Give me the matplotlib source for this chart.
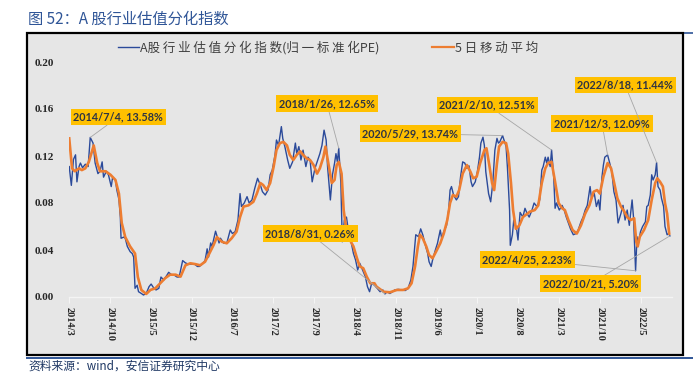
import matplotlib
matplotlib.use("Agg")
import matplotlib.pyplot as plt
import numpy as np
from matplotlib.patches import Rectangle
from matplotlib.lines import Line2D
from matplotlib.font_manager import FontProperties

plt.rcParams['font.family'] = ['Noto Sans CJK SC', 'DejaVu Sans']

# 数据：时间用小数年表示，数值读自原图
t_blue = [2014.17, 2014.20, 2014.23, 2014.26, 2014.28, 2014.31, 2014.33, 2014.36, 2014.40, 2014.44,
          2014.47, 2014.51, 2014.54, 2014.58, 2014.61, 2014.64, 2014.66, 2014.70, 2014.73, 2014.77,
          2014.79, 2014.83, 2014.85, 2014.88, 2014.90, 2014.91, 2014.95, 2014.97, 2015.00, 2015.04,
          2015.07, 2015.09, 2015.11, 2015.14, 2015.16, 2015.20, 2015.23, 2015.27, 2015.31, 2015.34,
          2015.38, 2015.41, 2015.45, 2015.48, 2015.52, 2015.57, 2015.59, 2015.63, 2015.66, 2015.71,
          2015.74, 2015.79, 2015.83, 2015.87, 2015.91, 2015.96, 2016.00, 2016.03, 2016.07, 2016.11,
          2016.14, 2016.16, 2016.19, 2016.21, 2016.26, 2016.31, 2016.33, 2016.38, 2016.42, 2016.47,
          2016.50, 2016.54, 2016.58, 2016.61, 2016.63, 2016.67, 2016.71, 2016.74, 2016.78, 2016.82,
          2016.86, 2016.90, 2016.93, 2016.97, 2017.01, 2017.04, 2017.07, 2017.11, 2017.13, 2017.16,
          2017.20, 2017.22, 2017.25, 2017.29, 2017.32, 2017.36, 2017.40, 2017.42, 2017.45, 2017.48,
          2017.51, 2017.55, 2017.58, 2017.61, 2017.64, 2017.68, 2017.72, 2017.75, 2017.78, 2017.81,
          2017.84, 2017.86, 2017.90, 2017.93, 2017.96, 2017.98, 2018.00, 2018.02, 2018.05, 2018.07,
          2018.10, 2018.13, 2018.17, 2018.20, 2018.23, 2018.26, 2018.29, 2018.32, 2018.36, 2018.40,
          2018.43, 2018.46, 2018.49, 2018.53, 2018.57, 2018.61, 2018.65, 2018.68, 2018.71, 2018.75,
          2018.79, 2018.82, 2018.87, 2018.92, 2018.97, 2019.01, 2019.05, 2019.08, 2019.10, 2019.12,
          2019.16, 2019.19, 2019.22, 2019.25, 2019.29, 2019.31, 2019.34, 2019.36, 2019.40, 2019.43,
          2019.47, 2019.49, 2019.52, 2019.56, 2019.59, 2019.61, 2019.63, 2019.66, 2019.70, 2019.73,
          2019.76, 2019.79, 2019.82, 2019.85, 2019.88, 2019.91, 2019.93, 2019.97, 2020.00, 2020.03,
          2020.05, 2020.08, 2020.10, 2020.12, 2020.16, 2020.19, 2020.22, 2020.25, 2020.28, 2020.30,
          2020.32, 2020.36, 2020.38, 2020.41, 2020.43, 2020.46, 2020.47, 2020.50, 2020.52, 2020.56,
          2020.58, 2020.61, 2020.65, 2020.68, 2020.71, 2020.74, 2020.78, 2020.81, 2020.85, 2020.89,
          2020.92, 2020.94, 2020.97, 2020.99, 2021.01, 2021.04, 2021.06, 2021.09, 2021.11, 2021.13,
          2021.17, 2021.21, 2021.24, 2021.27, 2021.30, 2021.33, 2021.37, 2021.41, 2021.44, 2021.48,
          2021.51, 2021.54, 2021.57, 2021.61, 2021.63, 2021.67, 2021.70, 2021.73, 2021.75, 2021.78,
          2021.80, 2021.82, 2021.86, 2021.89, 2021.92, 2021.95, 2021.98, 2022.01, 2022.05, 2022.08,
          2022.11, 2022.14, 2022.17, 2022.21, 2022.23, 2022.26, 2022.28, 2022.30, 2022.33, 2022.36,
          2022.40, 2022.42, 2022.44, 2022.47, 2022.49, 2022.51, 2022.54, 2022.56, 2022.58, 2022.61,
          2022.63, 2022.66, 2022.68, 2022.71, 2022.73, 2022.75]
v_blue = [0.111, 0.095, 0.117, 0.121, 0.098, 0.111, 0.114, 0.110, 0.113, 0.111,
          0.1358, 0.131, 0.114, 0.105, 0.107, 0.115, 0.102, 0.107, 0.104, 0.094,
          0.102, 0.0996, 0.091, 0.083, 0.068, 0.050, 0.051, 0.050, 0.043, 0.0386,
          0.037, 0.034, 0.0074, 0.010, 0.0045, 0.003, 0.0017, 0.003, 0.0088, 0.011,
          0.0074, 0.006, 0.0074, 0.017, 0.0145, 0.019, 0.021, 0.019, 0.019, 0.017,
          0.017, 0.031, 0.029, 0.028, 0.028, 0.028, 0.026, 0.026, 0.028, 0.031,
          0.041, 0.034, 0.046, 0.043, 0.056, 0.046, 0.050, 0.0457, 0.0457, 0.057,
          0.054, 0.0556, 0.0655, 0.088, 0.077, 0.080, 0.0854, 0.080, 0.0826, 0.0925,
          0.101, 0.0953, 0.0896, 0.0868, 0.091, 0.104, 0.108, 0.121, 0.1336, 0.129,
          0.145, 0.135, 0.128, 0.1166, 0.1095, 0.115, 0.131, 0.122, 0.128, 0.1166,
          0.125, 0.111, 0.119, 0.1166, 0.098, 0.1095, 0.1166, 0.122, 0.129, 0.142,
          0.1336, 0.111, 0.0826, 0.104, 0.114, 0.122, 0.115, 0.1265, 0.097, 0.047,
          0.0655, 0.068, 0.0513, 0.0457, 0.037, 0.0315, 0.023, 0.0287, 0.023, 0.0173,
          0.0088, 0.0045, 0.0117, 0.010, 0.0074, 0.0045, 0.006, 0.0026, 0.0045, 0.003,
          0.0045, 0.006, 0.0065, 0.006, 0.0055, 0.0074, 0.0145, 0.026, 0.040, 0.053,
          0.0513, 0.058, 0.053, 0.0457, 0.037, 0.030, 0.026, 0.0315, 0.040, 0.0457,
          0.057, 0.050, 0.0556, 0.061, 0.074, 0.091, 0.094, 0.0868, 0.0826, 0.0854,
          0.1024, 0.115, 0.114, 0.1095, 0.1116, 0.098, 0.094, 0.098, 0.1067, 0.119,
          0.131, 0.136, 0.129, 0.1067, 0.088, 0.081, 0.097, 0.125, 0.135, 0.131,
          0.132, 0.1374, 0.1336, 0.128, 0.1095, 0.074, 0.044, 0.053, 0.0655, 0.058,
          0.0485, 0.072, 0.068, 0.0755, 0.071, 0.068, 0.074, 0.080, 0.077, 0.0826,
          0.108, 0.111, 0.119, 0.114, 0.119, 0.111, 0.1251, 0.1024, 0.0755, 0.080,
          0.074, 0.078, 0.074, 0.068, 0.063, 0.058, 0.053, 0.054, 0.057, 0.064,
          0.068, 0.074, 0.078, 0.094, 0.084, 0.088, 0.077, 0.0826, 0.074, 0.1024,
          0.1123, 0.119, 0.1209, 0.114, 0.1067, 0.0896, 0.0826, 0.063, 0.071, 0.078,
          0.0655, 0.074, 0.061, 0.0826, 0.068, 0.0223, 0.0513, 0.0457, 0.0556, 0.060,
          0.064, 0.077, 0.078, 0.0868, 0.104, 0.0996, 0.104, 0.1144, 0.094, 0.091,
          0.084, 0.077, 0.060, 0.053, 0.054, 0.052]

t_ma = [2014.17, 2014.21, 2014.25, 2014.31, 2014.35, 2014.40, 2014.45, 2014.52, 2014.57, 2014.61,
        2014.69, 2014.76, 2014.83, 2014.88, 2014.92, 2014.97, 2015.04, 2015.11, 2015.15, 2015.20,
        2015.27, 2015.33, 2015.40, 2015.47, 2015.54, 2015.61, 2015.69, 2015.76, 2015.83, 2015.90,
        2015.97, 2016.04, 2016.11, 2016.16, 2016.23, 2016.28, 2016.35, 2016.42, 2016.49, 2016.56,
        2016.61, 2016.66, 2016.73, 2016.80, 2016.85, 2016.90, 2016.94, 2016.99, 2017.04, 2017.09,
        2017.13, 2017.18, 2017.23, 2017.28, 2017.32, 2017.37, 2017.42, 2017.47, 2017.51, 2017.56,
        2017.61, 2017.66, 2017.71, 2017.75, 2017.80, 2017.83, 2017.87, 2017.92, 2017.96, 2017.99,
        2018.02, 2018.06, 2018.09, 2018.13, 2018.18, 2018.23, 2018.28, 2018.32, 2018.37, 2018.42,
        2018.47, 2018.53, 2018.56, 2018.66, 2018.75, 2018.85, 2018.94, 2019.01, 2019.06, 2019.11,
        2019.15, 2019.18, 2019.22, 2019.27, 2019.31, 2019.36, 2019.41, 2019.47, 2019.52, 2019.57,
        2019.61, 2019.65, 2019.70, 2019.74, 2019.79, 2019.85, 2019.90, 2019.94, 2019.99, 2020.04,
        2020.10, 2020.13, 2020.17, 2020.21, 2020.24, 2020.28, 2020.31, 2020.36, 2020.41, 2020.44,
        2020.48, 2020.51, 2020.55, 2020.60, 2020.65, 2020.75, 2020.82, 2020.87, 2020.92, 2020.97,
        2021.01, 2021.06, 2021.11, 2021.16, 2021.21, 2021.25, 2021.30, 2021.36, 2021.42, 2021.48,
        2021.54, 2021.60, 2021.66, 2021.71, 2021.75, 2021.80, 2021.86, 2021.91, 2021.95, 2022.00,
        2022.05, 2022.10, 2022.14, 2022.19, 2022.24, 2022.27, 2022.29, 2022.32, 2022.38, 2022.44,
        2022.49, 2022.54, 2022.57, 2022.61, 2022.65, 2022.68, 2022.71, 2022.74]
v_ma = [0.135, 0.1095, 0.107, 0.1095, 0.108, 0.1095, 0.115, 0.129, 0.114, 0.107,
        0.107, 0.104, 0.0996, 0.088, 0.063, 0.051, 0.043, 0.037, 0.017, 0.006,
        0.0026, 0.006, 0.0074, 0.0117, 0.016, 0.019, 0.019, 0.0173, 0.027, 0.0287,
        0.028, 0.027, 0.030, 0.0357, 0.044, 0.051, 0.047, 0.0457, 0.050, 0.0556,
        0.068, 0.077, 0.078, 0.081, 0.088, 0.097, 0.0953, 0.091, 0.097, 0.111,
        0.125, 0.131, 0.132, 0.129, 0.121, 0.1166, 0.121, 0.124, 0.121, 0.118,
        0.1166, 0.1123, 0.105, 0.1095, 0.119, 0.128, 0.114, 0.097, 0.0996, 0.1123,
        0.115, 0.105, 0.074, 0.057, 0.0485, 0.043, 0.033, 0.026, 0.0245, 0.0173,
        0.0117, 0.0117, 0.0088, 0.0045, 0.004, 0.006, 0.006, 0.0074, 0.0117, 0.026,
        0.043, 0.053, 0.050, 0.043, 0.0357, 0.033, 0.0386, 0.0457, 0.054, 0.0655,
        0.080, 0.0868, 0.0854, 0.091, 0.105, 0.1123, 0.1067, 0.101, 0.1024, 0.114,
        0.125, 0.1266, 0.1123, 0.097, 0.091, 0.114, 0.128, 0.132, 0.131, 0.122,
        0.097, 0.074, 0.058, 0.061, 0.068, 0.0726, 0.074, 0.078, 0.097, 0.1095,
        0.114, 0.115, 0.098, 0.080, 0.0755, 0.074, 0.0655, 0.057, 0.054, 0.061,
        0.071, 0.078, 0.0896, 0.091, 0.088, 0.1024, 0.114, 0.1095, 0.098, 0.084,
        0.077, 0.0726, 0.068, 0.0655, 0.067, 0.047, 0.043, 0.0513, 0.057, 0.0655,
        0.0826, 0.097, 0.101, 0.098, 0.094, 0.080, 0.071, 0.054]

tick_labels = ['2014/3', '2014/10', '2015/5', '2015/12', '2016/7', '2017/2', '2017/9', '2018/4',
               '2018/11', '2019/6', '2020/1', '2020/8', '2021/3', '2021/10', '2022/5']
y_ticks = [0.00, 0.04, 0.08, 0.12, 0.16, 0.20]

ann_labels = ['2014/7/4, 13.58%', '2018/1/26, 12.65%', '2020/5/29, 13.74%', '2021/2/10, 12.51%',
              '2021/12/3, 12.09%', '2022/8/18, 11.44%', '2018/8/31, 0.26%', '2022/4/25, 2.23%',
              '2022/10/21, 5.20%']
ann_values = [0.1358, 0.1265, 0.1374, 0.1251, 0.1209, 0.1144, 0.0026, 0.0223, 0.052]
# 标注框的位置（小数年, 数值）
ann_pos = [(2014.87, 0.1532), (2017.85, 0.1647), (2019.04, 0.1391), (2020.14, 0.1634),
           (2021.78, 0.1477), (2022.11, 0.1804), (2017.61, 0.0540), (2020.71, 0.0319),
           (2021.62, 0.0115)]

BLUE = '#2b4a9a'
ORANGE = '#ed7d31'
BG = '#e6e6e6'

fig = plt.figure(figsize=(6.93, 3.72), dpi=100)
W, H = 693, 372

# 外框和蓝色分隔线
fig.add_artist(Line2D([27 / W, 1], [1 - 33 / H, 1 - 33 / H], transform=fig.transFigure,
                      color='#2f5597', lw=1.2, zorder=-3))
fig.add_artist(Rectangle((27 / W, 1 - 355 / H), 656 / W, 322 / H, transform=fig.transFigure,
                         facecolor=BG, edgecolor='black', lw=1.6, zorder=-2))
fig.add_artist(Line2D([27 / W, 1], [1 - 357.5 / H, 1 - 357.5 / H], transform=fig.transFigure,
                      color='#2f5597', lw=1.4, zorder=-1))

fig.text(28 / W, 1 - 19 / H, '图 52：A 股行业估值分化指数', fontsize=11, color='#2f5597',
         va='center', ha='left')
fig.text(28 / W, 1 - 366 / H, '资料来源：wind，安信证券研究中心', fontsize=8.5, color='#1f3864',
         va='center', ha='left')

ax = fig.add_axes([69 / W, 1 - 297 / H, 603 / W, 235 / H])
ax.patch.set_visible(False)

ax.plot(t_blue, v_blue, color=BLUE, lw=1.0, zorder=3)
ax.plot(t_ma, v_ma, color=ORANGE, lw=1.9, zorder=4)

ax.set_xlim(2014.167, 2022.78)
ax.set_ylim(0, 0.20)

tick_pos = [int(s.split('/')[0]) + (int(s.split('/')[1]) - 1) / 12 for s in tick_labels]
ax.set_xticks(tick_pos)
ax.set_xticklabels(tick_labels, rotation=-90, fontfamily='Liberation Serif', fontweight='bold',
                   fontsize=7.5, color='#262626')
ax.set_yticks(y_ticks)
ax.set_yticklabels(['%.2f' % v for v in y_ticks], fontfamily='Liberation Serif',
                   fontweight='bold', fontsize=8, color='#262626')
ax.tick_params(axis='y', length=0, pad=11)
ax.tick_params(axis='x', length=4, color='#f4f4f4', pad=3)
for s in ['top', 'right', 'left']:
    ax.spines[s].set_visible(False)
ax.spines['bottom'].set_color('#f4f4f4')
ax.spines['bottom'].set_linewidth(1.0)

# 标注
for label, val, pos in zip(ann_labels, ann_values, ann_pos):
    i = int(np.argmin(np.abs(np.array(v_blue) - val)))
    ax.annotate(label, xy=(t_blue[i], v_blue[i]), xytext=pos, ha='center', va='center',
                fontsize=7.8, fontfamily='Lato', fontweight='bold', color='#2e3444',
                bbox=dict(boxstyle='square,pad=0.25', fc='#ffc000', ec='none'),
                arrowprops=dict(arrowstyle='-', color='#a6a6a6', lw=0.6,
                                shrinkA=0, shrinkB=0), zorder=6)

handles = [Line2D([], [], color=BLUE, lw=1.0), Line2D([], [], color=ORANGE, lw=1.6)]
labels = ['A股 行 业 估 值 分 化 指 数(归 一 标 准 化PE)', '5 日 移 动 平 均']
fig.legend(handles, labels, loc='center', bbox_to_anchor=(328 / W, 1 - 48 / H), ncol=2,
           frameon=False, prop=FontProperties(family=['Noto Sans CJK SC', 'DejaVu Sans'], size=9),
           handlelength=1.7, handletextpad=0.1, columnspacing=4.2, labelcolor='#404040')

fig.savefig('out.png', dpi=100)
